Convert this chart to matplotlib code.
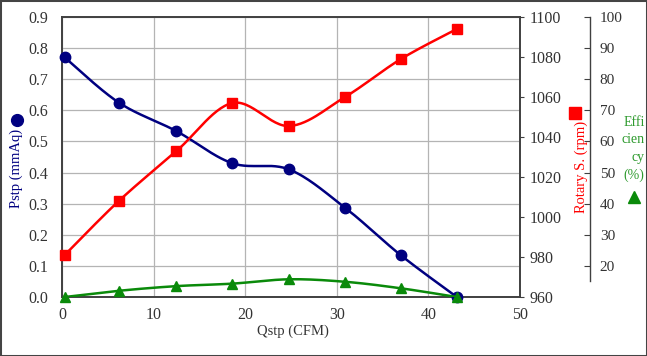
import numpy as np
import matplotlib
matplotlib.use('Agg')
import matplotlib.pyplot as plt
from matplotlib.patches import Rectangle

# values
qstp = [0.3, 6.2, 12.5, 18.6, 24.8, 30.9, 37.0, 43.1]          # CFM
pstp = [0.77, 0.625, 0.533, 0.43, 0.41, 0.287, 0.134, 0.0]      # mmAq
rpm = [981, 1008, 1033, 1057, 1045.5, 1060, 1079, 1094]        # rpm
eff = [10.0, 12.0, 13.5, 14.3, 15.7, 14.9, 12.8, 10.0]          # %

x_ticks = [0, 10, 20, 30, 40, 50]
p_ticks = [0.0, 0.1, 0.2, 0.3, 0.4, 0.5, 0.6, 0.7, 0.8, 0.9]
rpm_ticks = [960, 980, 1000, 1020, 1040, 1060, 1080, 1100]
eff_ticks = [20, 30, 40, 50, 60, 70, 80, 90, 100]

navy = '#000080'
red = '#ff0000'
green = '#0a8a0a'
txt = '#333333'

plt.rcParams['font.family'] = ['Liberation Serif', 'DejaVu Serif']


def smooth(xs, ys, n=30):
    # Excel-style smoothed line (Catmull-Rom / Bezier through the points)
    p = np.column_stack([xs, ys]).astype(float)
    p = np.vstack([p[0], p, p[-1]])
    out = []
    t = np.linspace(0, 1, n)[:, None]
    for i in range(1, len(p) - 2):
        p0, p1, p2, p3 = p[i - 1], p[i], p[i + 1], p[i + 2]
        c1 = p1 + (p2 - p0) / 6
        c2 = p2 - (p3 - p1) / 6
        seg = ((1 - t) ** 3) * p1 + 3 * ((1 - t) ** 2) * t * c1 + 3 * (1 - t) * t ** 2 * c2 + t ** 3 * p2
        out.append(seg)
    out = np.vstack(out)
    return out[:, 0], out[:, 1]


fig = plt.figure(figsize=(6.47, 3.56), dpi=100)
ax = fig.add_axes([0.0958, 0.1657, 0.7079, 0.7865])
ax2 = ax.twinx()
ax3 = ax.twinx()

# Pstp
sx, sy = smooth(qstp, pstp)
ax.plot(sx, sy, color=navy, lw=1.8, zorder=3)
ax.plot(qstp, pstp, 'o', color=navy, ms=7.5, zorder=4, clip_on=False)
ax.set_xlim(0, 50)
ax.set_ylim(0, 0.9)
ax.set_xticks(x_ticks)
ax.set_yticks(p_ticks)
ax.set_yticklabels(['%.1f' % v for v in p_ticks])
ax.grid(True, color='#b4b4b4', lw=0.9)
ax.set_axisbelow(True)
ax.tick_params(axis='y', length=0, pad=10, labelsize=11.5, labelcolor=txt)
ax.tick_params(axis='x', length=0, pad=7, labelsize=11.5, labelcolor=txt)
for s in ax.spines.values():
    s.set_color('#404040')
    s.set_linewidth(1.4)
ax.set_xlabel('Qstp (CFM)', fontsize=10.5, color=txt)
ax.xaxis.set_label_coords(0.504, -0.1)
ax.set_ylabel('Pstp (mmAq)', fontsize=10.5, color=navy)
ax.yaxis.set_label_coords(-0.085, 0.46)
ax.plot([-0.098], [0.632], 'o', color=navy, ms=8.5, transform=ax.transAxes, clip_on=False)

# Rotary speed
rx, ry = smooth(qstp, rpm)
ax2.plot(rx, ry, color=red, lw=1.8, zorder=3)
ax2.plot(qstp, rpm, 's', color=red, ms=7, zorder=4, clip_on=False)
ax2.set_ylim(960, 1100)
ax2.set_yticks(rpm_ticks)
ax2.tick_params(axis='y', direction='out', length=3, pad=4, labelsize=11.5,
                labelcolor=txt, color='#404040')
for s in ax2.spines.values():
    s.set_visible(False)
ax2.set_ylabel('Rotary S. (rpm)', fontsize=10.5, color=red)
ax2.yaxis.set_label_coords(1.118, 0.464)
ax2.plot([1.12], [0.657], 's', color=red, ms=8.5, transform=ax2.transAxes, clip_on=False)

# Efficiency
ex, ey = smooth(qstp, eff)
ax3.plot(ex, ey, color=green, lw=1.8, zorder=3)
ax3.plot(qstp, eff, '^', color=green, ms=7, zorder=4, clip_on=False)
ax3.set_ylim(10, 100)
ax3.set_yticks(eff_ticks)
for name, s in ax3.spines.items():
    s.set_visible(name == 'right')
ax3.spines['right'].set_position(('axes', 1.153))
ax3.spines['right'].set_bounds(15, 100)
ax3.spines['right'].set_color('#404040')
ax3.spines['right'].set_linewidth(1.0)
ax3.tick_params(axis='y', direction='in', length=4, pad=7, labelsize=11,
                labelcolor=txt, color='#404040')
ax3.set_ylabel('Effi\ncien\ncy\n(%)', fontsize=10, color='#2e9a2e', rotation=0,
               ha='right', va='center', multialignment='right', linespacing=1.45)
ax3.yaxis.set_label_coords(1.272, 0.53)
ax3.plot([1.249], [0.357], '^', color=green, ms=8.5, transform=ax3.transAxes, clip_on=False)

fig.patches.append(Rectangle((0, 0), 1, 1, transform=fig.transFigure, fill=False,
                             edgecolor='#444444', lw=2.2))

fig.savefig('out.png', dpi=100)
